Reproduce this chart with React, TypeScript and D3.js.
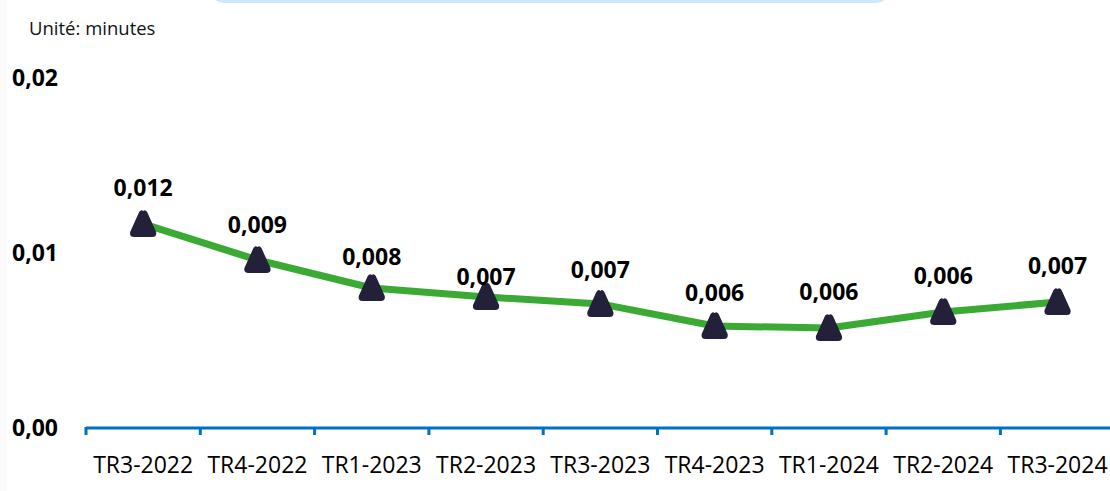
import React from 'react'
import * as d3 from 'd3'

// trimestres
const quarters = [
  'TR3-2022', 'TR4-2022', 'TR1-2023', 'TR2-2023', 'TR3-2023',
  'TR4-2023', 'TR1-2024', 'TR2-2024', 'TR3-2024'
]
// durée moyenne (minutes)
const values = [0.01166, 0.0096, 0.008, 0.00749, 0.00709, 0.00583, 0.00571, 0.00663, 0.0072]
const valueLabels = ['0,012', '0,009', '0,008', '0,007', '0,007', '0,006', '0,006', '0,006', '0,007']
const yTicks = [0, 0.01, 0.02]

// décalage vertical des étiquettes (placées à la main dans l'original)
const labelLift = [28, 27, 23, 12, 26, 25, 28, 28, 28]

const W = 1110
const H = 491
const FONT = '"Open Sans", "Noto Sans", sans-serif'

const App: React.FC = () => {
  const x = d3.scaleBand<string>()
    .domain(quarters)
    .range([86, 86 + 9 * 114.3])

  const y = d3.scaleLinear()
    .domain([0, 0.02])
    .range([428, 78])

  const line = d3.line<number>()
    .x((_, i) => (x(quarters[i]) ?? 0) + x.bandwidth() / 2)
    .y(d => y(d))

  const fmt = (v: number) => d3.format('.2f')(v).replace('.', ',')

  // triangle arrondi
  const tri = 'M0,-13 Q2,-15 4,-12 L13,8 Q14,13 9,13 L-9,13 Q-14,13 -13,8 L-4,-12 Q-2,-15 0,-13 Z'

  return (
    <svg
      width={W}
      height={H}
      style={{ position: 'absolute', left: 0, top: 0, background: '#fff' }}
    >
      <rect x={0} y={0} width={7} height={H} fill="#fafafa" />
      <rect x={210} y={-30} width={680} height={33} rx={14} fill="#cde8fb" />

      <text x={29} y={35} fontFamily={FONT} fontSize={18.5} fill="#111">
        Unité: minutes
      </text>

      {yTicks.map(t => (
        <text
          key={t}
          x={12}
          y={y(t)}
          dy="0.35em"
          fontFamily={FONT}
          fontSize={23}
          fontWeight="bold"
          fill="#000"
        >
          {fmt(t)}
        </text>
      ))}

      <line x1={86} x2={W} y1={428} y2={428} stroke="#0070c0" strokeWidth={3} />
      {quarters.map(q => (
        <line
          key={'t' + q}
          x1={x(q)}
          x2={x(q)}
          y1={427}
          y2={435}
          stroke="#0070c0"
          strokeWidth={3}
        />
      ))}

      {quarters.map(q => (
        <text
          key={'l' + q}
          x={(x(q) ?? 0) + x.bandwidth() / 2}
          y={473}
          textAnchor="middle"
          fontFamily={FONT}
          fontSize={23}
          fill="#000"
        >
          {q}
        </text>
      ))}

      <path d={line(values) ?? ''} fill="none" stroke="#3aaa35" strokeWidth={7} strokeLinejoin="round" />

      {values.map((v, i) => {
        const cx = (x(quarters[i]) ?? 0) + x.bandwidth() / 2
        const cy = y(v)
        return (
          <g key={'m' + i}>
            <path d={tri} transform={`translate(${cx},${cy})`} fill="#23213a" />
            <text
              x={cx}
              y={cy - labelLift[i]}
              textAnchor="middle"
              fontFamily={FONT}
              fontSize={23}
              fontWeight="bold"
              fill="#000"
            >
              {valueLabels[i]}
            </text>
          </g>
        )
      })}
    </svg>
  )
}

export default App
